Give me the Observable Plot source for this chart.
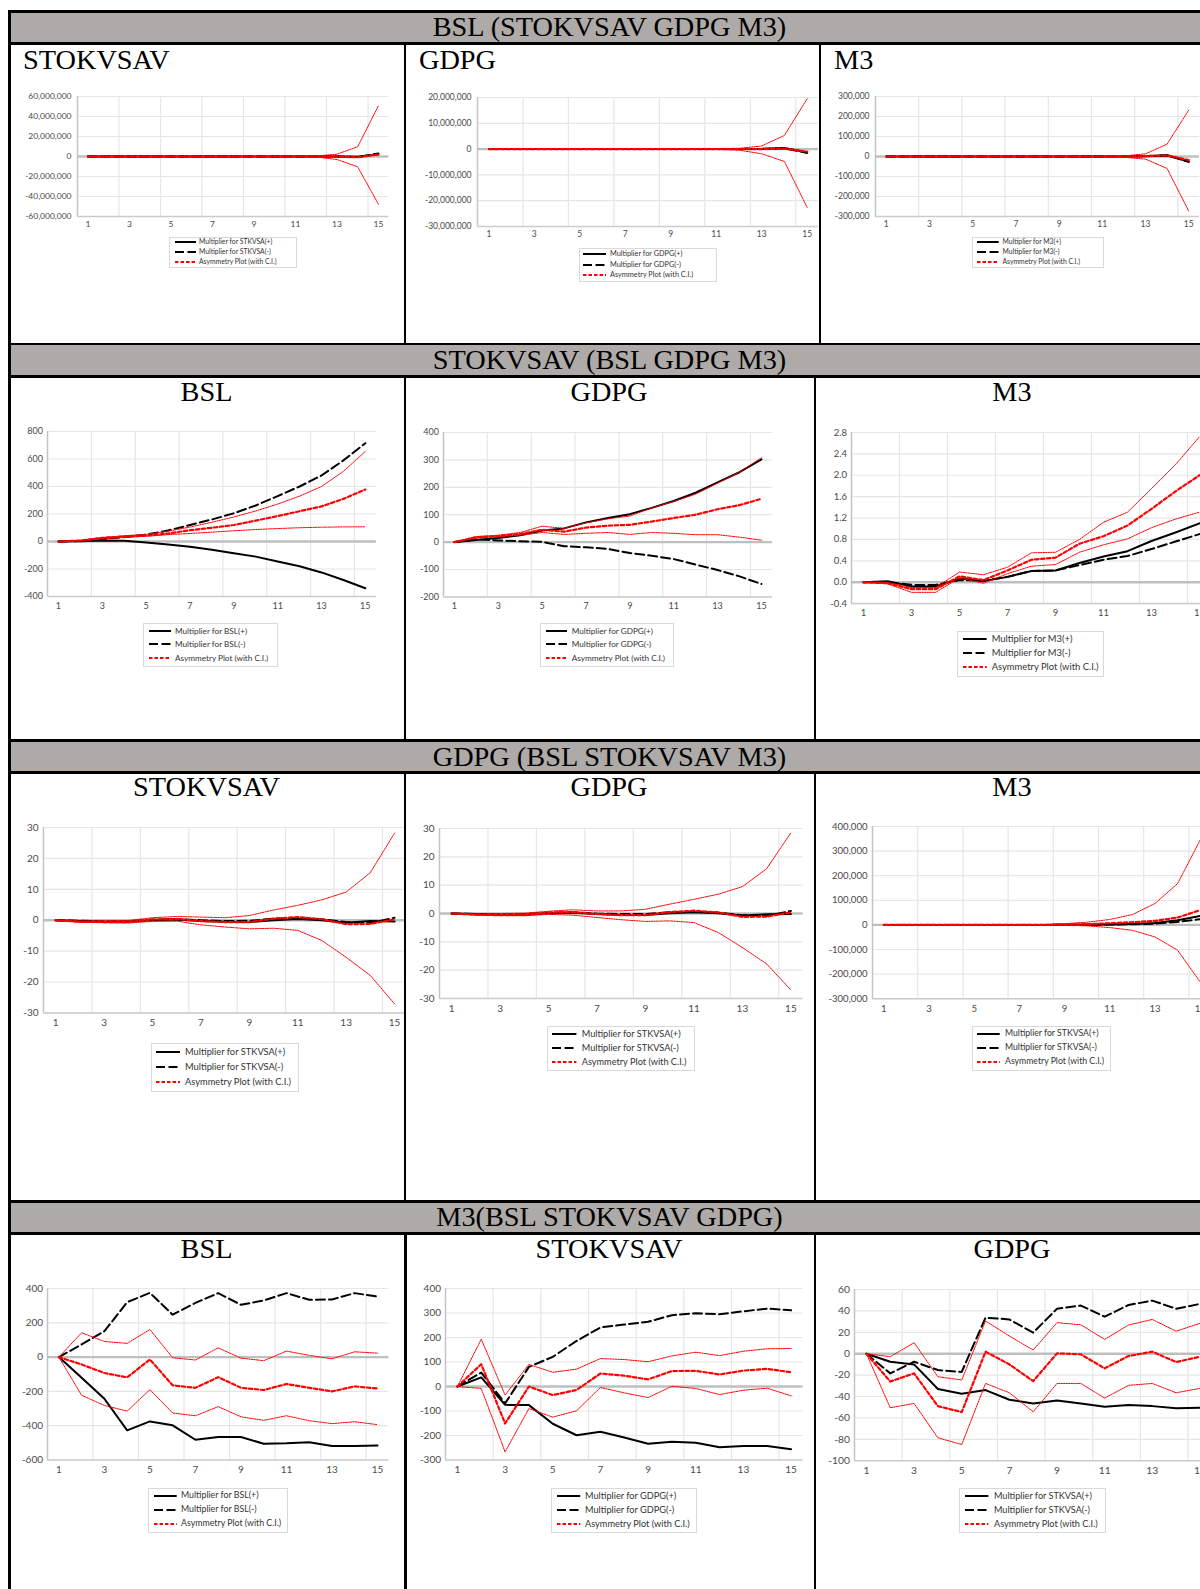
<!DOCTYPE html>
<html><head><meta charset="utf-8">
<script src="https://cdn.jsdelivr.net/npm/d3@7"></script>
<script src="https://cdn.jsdelivr.net/npm/@observablehq/plot@0.6"></script>
<style>
html,body{margin:0;padding:0;background:#fff;overflow:hidden;width:1200px;height:1589px;}
#page{position:relative;width:1200px;height:1589px;overflow:hidden;background:#fff;}
.ln{position:absolute;background:#000;z-index:5;}
.band{position:absolute;background:#AEAAA8;z-index:1;}
.serif{position:absolute;font-family:"Liberation Serif","Times New Roman",serif;font-size:28.3px;line-height:28.3px;white-space:nowrap;color:#000;z-index:6;}
.lg{position:absolute;border:1px solid #D9D9D9;box-sizing:border-box;background:#fff;z-index:3;font-family:Lato,sans-serif;color:#333;}
.lg .it{position:absolute;white-space:nowrap;}
.lg svg{position:absolute;overflow:visible;}
</style></head><body><div id="page"></div>
<script>
// ---------------- DATA ----------------
const periods = [1,2,3,4,5,6,7,8,9,10,11,12,13,14,15];

const sectionTitles = ["BSL (STOKVSAV GDPG M3)", "STOKVSAV (BSL GDPG M3)", "GDPG (BSL STOKVSAV M3)", "M3(BSL STOKVSAV GDPG)"];
const panelTitles = [["STOKVSAV","GDPG","M3"],["BSL","GDPG","M3"],["STOKVSAV","GDPG","M3"],["BSL","STOKVSAV","GDPG"]];
const legendVars = [["STKVSA","GDPG","M3"],["BSL","GDPG","M3"],["STKVSA","STKVSA","STKVSA"],["BSL","GDPG","STKVSA"]];

// y tick labels
const ticks_bsl_stk = [-60000000,-40000000,-20000000,0,20000000,40000000,60000000];
const ticks_bsl_gdpg = [-30000000,-20000000,-10000000,0,10000000,20000000];
const ticks_bsl_m3 = [-300000,-200000,-100000,0,100000,200000,300000];
const ticks_stk_bsl = [-400,-200,0,200,400,600,800];
const ticks_stk_gdpg = [-200,-100,0,100,200,300,400];
const ticks_stk_m3 = [-0.4,0,0.4,0.8,1.2,1.6,2.0,2.4,2.8];
const ticks_gdpg_stk = [-30,-20,-10,0,10,20,30];
const ticks_gdpg_gdpg = [-30,-20,-10,0,10,20,30];
const ticks_gdpg_m3 = [-300000,-200000,-100000,0,100000,200000,300000,400000];
const ticks_m3_bsl = [-600,-400,-200,0,200,400];
const ticks_m3_stk = [-300,-200,-100,0,100,200,300,400];
const ticks_m3_gdpg = [-100,-80,-60,-40,-20,0,20,40,60];

// Section 1: BSL equation
const bsl_stk_pos  = [0,0,0,0,0,0,0,0,0,0,0,0,0,-300000,2300000];
const bsl_stk_neg  = [0,0,0,0,0,0,0,0,0,0,0,0,-100000,-500000,3000000];
const bsl_stk_asym = [0,0,0,0,0,0,0,0,0,0,0,50000,-200000,-800000,2000000];
const bsl_stk_up   = [0,0,0,0,0,0,0,0,0,0,100000,500000,2300000,9700000,50700000];
const bsl_stk_lo   = [0,0,0,0,0,0,0,0,0,0,-100000,-500000,-3000000,-10300000,-47700000];

const bsl_gdpg_pos  = [0,0,0,0,0,0,0,0,0,0,0,0,100000,400000,-1200000];
const bsl_gdpg_neg  = [0,0,0,0,0,0,0,0,0,0,0,0,0,300000,-1500000];
const bsl_gdpg_asym = [0,0,0,0,0,0,0,0,0,0,0,0,0,200000,-1000000];
const bsl_gdpg_up   = [0,0,0,0,0,0,0,0,0,0,100000,300000,1200000,5300000,19500000];
const bsl_gdpg_lo   = [0,0,0,0,0,0,0,0,0,0,-100000,-400000,-1800000,-4800000,-22600000];

const bsl_m3_pos  = [0,0,0,0,0,0,0,0,0,0,0,0,1000,5000,-25000];
const bsl_m3_neg  = [0,0,0,0,0,0,0,0,0,0,0,0,2000,7000,-27000];
const bsl_m3_asym = [0,0,0,0,0,0,0,0,0,0,0,0,2000,6000,-18000];
const bsl_m3_up   = [0,0,0,0,0,0,0,0,0,0,1000,3000,13000,62000,232000];
const bsl_m3_lo   = [0,0,0,0,0,0,0,0,0,0,-1000,-4000,-13000,-60000,-273000];

// Section 2: STOKVSAV equation
const stk_bsl_pos  = [0,2,8,5,-8,-22,-38,-60,-85,-110,-145,-180,-225,-280,-340];
const stk_bsl_neg  = [0,5,18,32,50,80,120,160,205,262,330,400,480,590,715];
const stk_bsl_asym = [0,7,26,37,42,58,82,100,120,152,185,220,255,310,378];
const stk_bsl_up   = [0,8,28,42,52,75,105,140,178,222,272,330,400,510,655];
const stk_bsl_lo   = [0,6,18,30,38,50,58,68,78,87,94,100,104,106,107];

const stk_gdpg_pos  = [0,8,15,25,42,50,72,88,102,125,150,180,218,255,302];
const stk_gdpg_neg  = [0,10,6,3,1,-15,-19,-25,-40,-50,-62,-82,-102,-125,-153];
const stk_gdpg_asym = [0,18,22,30,45,38,53,60,63,75,88,100,120,135,158];
const stk_gdpg_up   = [0,20,25,35,58,50,70,85,95,125,148,175,215,255,308];
const stk_gdpg_lo   = [0,15,20,25,35,28,32,35,28,35,32,27,27,18,7];

const stk_m3_pos  = [0,0.02,-0.08,-0.08,0.07,0.02,0.1,0.21,0.22,0.36,0.48,0.58,0.77,0.93,1.1];
const stk_m3_neg  = [0,0,-0.05,-0.05,0.04,0.03,0.1,0.21,0.22,0.32,0.42,0.49,0.62,0.76,0.9];
const stk_m3_asym = [0,-0.02,-0.13,-0.13,0.11,0.04,0.22,0.42,0.46,0.72,0.86,1.06,1.37,1.7,2.0];
const stk_m3_up   = [0,0,-0.1,-0.1,0.19,0.14,0.28,0.55,0.56,0.8,1.12,1.31,1.75,2.2,2.72];
const stk_m3_lo   = [0,-0.03,-0.19,-0.19,0.08,-0.02,0.16,0.3,0.33,0.56,0.7,0.81,1.02,1.18,1.31];

// Section 3: GDPG equation
const gdpg_stk_pos  = [0,-0.3,-0.5,-0.5,0,0.2,-0.3,-0.5,-0.6,0,0.4,0,-0.8,-0.3,-0.4];
const gdpg_stk_neg  = [0,-0.2,-0.4,-0.3,0.2,0.3,0,-0.3,-0.2,0.5,0.6,0.3,-0.6,-0.9,0.8];
const gdpg_stk_asym = [0,-0.5,-0.6,-0.6,0.2,0.4,-0.3,-0.6,-0.6,0.5,1.0,0.3,-1.3,-1.2,0.3];
const gdpg_stk_up   = [0,-0.3,-0.2,-0.1,0.8,1.2,1.0,0.8,1.5,3.3,4.8,6.6,9.1,15.4,28.2];
const gdpg_stk_lo   = [0,-0.7,-0.8,-0.9,-0.4,-0.3,-1.5,-2.2,-2.8,-2.6,-3.3,-6.6,-12,-17.9,-27.1];

const gdpg_gdpg_pos  = [0,-0.2,-0.4,-0.4,0.1,0.3,-0.2,-0.5,-0.5,0.1,0.4,0.1,-0.7,-0.3,-0.2];
const gdpg_gdpg_neg  = [0,-0.2,-0.3,-0.2,0.3,0.4,0,-0.2,-0.2,0.5,0.6,0.3,-0.6,-0.8,0.9];
const gdpg_gdpg_asym = [0,-0.4,-0.6,-0.5,0.3,0.5,-0.2,-0.6,-0.6,0.5,1.0,0.4,-1.2,-1.1,0.4];
const gdpg_gdpg_up   = [0,-0.2,0,0.1,0.8,1.3,0.9,0.9,1.5,3.3,5,6.8,9.5,15.8,28.5];
const gdpg_gdpg_lo   = [0,-0.6,-0.7,-0.8,-0.3,-0.6,-1.4,-2.2,-2.8,-2.6,-3.2,-6.7,-12,-17.8,-27];

const gdpg_m3_pos  = [0,0,0,0,0,0,0,0,300,1000,2000,4000,8000,19000,36600];
const gdpg_m3_neg  = [0,0,0,0,0,0,0,0,200,800,1500,3000,5000,12000,23000];
const gdpg_m3_asym = [0,0,0,0,0,0,0,200,1000,3000,6800,10800,16300,30000,60000];
const gdpg_m3_up   = [0,0,0,0,0,0,0,1000,5000,11000,22000,42000,87000,168000,345000];
const gdpg_m3_lo   = [0,0,0,0,0,0,0,-500,-1000,-4000,-11000,-22000,-49000,-103000,-232000];

// Section 4: M3 equation
const m3_bsl_pos  = [0,-120,-243,-427,-375,-398,-482,-466,-466,-505,-503,-497,-518,-518,-515];
const m3_bsl_neg  = [0,74,151,320,375,247,316,373,305,330,373,334,336,373,353];
const m3_bsl_asym = [0,-43,-93,-118,-14,-165,-179,-117,-179,-192,-157,-179,-200,-171,-183];
const m3_bsl_up   = [0,142,91,80,161,-4,-17,54,-6,-21,35,10,-10,31,23];
const m3_bsl_lo   = [0,-223,-282,-315,-190,-326,-342,-289,-348,-369,-342,-371,-388,-377,-394];

const m3_stk_pos  = [0,37,-75,-76,-152,-199,-185,-208,-234,-226,-230,-248,-243,-243,-256];
const m3_stk_neg  = [0,57,-69,80,121,186,241,253,264,291,299,295,307,318,311];
const m3_stk_asym = [0,91,-151,0,-35,-14,53,44,29,63,64,49,65,72,58];
const m3_stk_up   = [0,193,-35,90,58,71,114,110,101,125,140,126,144,154,155];
const m3_stk_lo   = [0,-8,-267,-90,-125,-99,-4,-26,-45,1,-8,-33,-15,-7,-38];

const m3_gdpg_pos  = [0,-7.5,-10,-33,-37.5,-34,-43,-46.5,-43.7,-46.5,-49.6,-48,-49,-51,-50.5];
const m3_gdpg_neg  = [0,-18.4,-7.5,-15.3,-17,33.7,32,19.7,42,45,34.6,45.5,49.6,42,46.5];
const m3_gdpg_asym = [0,-26,-18.4,-49,-54.6,1.9,-10,-25.6,0.3,-0.6,-13.7,-2.2,1.9,-7.8,-2.8];
const m3_gdpg_up   = [0,-2.8,10.3,-21.5,-24.6,30.6,16.5,3.4,29,27,13.4,26.8,32,21,28.4];
const m3_gdpg_lo   = [0,-50.5,-46.5,-78.6,-84.9,-27.8,-36.5,-54.3,-27.8,-27.8,-41.5,-29.6,-27.8,-36.5,-32.4];

// ---------------- HELPERS ----------------
const commaFmt = v => (v < 0 ? "-" : "") + d3.format(",")(Math.abs(v));
const dec1Fmt = v => v.toFixed(1);
const plainFmt = v => String(v);

const panels = [
  [ {d:[bsl_stk_pos,bsl_stk_neg,bsl_stk_asym,bsl_stk_up,bsl_stk_lo], t:ticks_bsl_stk, f:commaFmt},
    {d:[bsl_gdpg_pos,bsl_gdpg_neg,bsl_gdpg_asym,bsl_gdpg_up,bsl_gdpg_lo], t:ticks_bsl_gdpg, f:commaFmt},
    {d:[bsl_m3_pos,bsl_m3_neg,bsl_m3_asym,bsl_m3_up,bsl_m3_lo], t:ticks_bsl_m3, f:commaFmt} ],
  [ {d:[stk_bsl_pos,stk_bsl_neg,stk_bsl_asym,stk_bsl_up,stk_bsl_lo], t:ticks_stk_bsl, f:plainFmt},
    {d:[stk_gdpg_pos,stk_gdpg_neg,stk_gdpg_asym,stk_gdpg_up,stk_gdpg_lo], t:ticks_stk_gdpg, f:plainFmt},
    {d:[stk_m3_pos,stk_m3_neg,stk_m3_asym,stk_m3_up,stk_m3_lo], t:ticks_stk_m3, f:dec1Fmt} ],
  [ {d:[gdpg_stk_pos,gdpg_stk_neg,gdpg_stk_asym,gdpg_stk_up,gdpg_stk_lo], t:ticks_gdpg_stk, f:plainFmt},
    {d:[gdpg_gdpg_pos,gdpg_gdpg_neg,gdpg_gdpg_asym,gdpg_gdpg_up,gdpg_gdpg_lo], t:ticks_gdpg_gdpg, f:plainFmt},
    {d:[gdpg_m3_pos,gdpg_m3_neg,gdpg_m3_asym,gdpg_m3_up,gdpg_m3_lo], t:ticks_gdpg_m3, f:commaFmt} ],
  [ {d:[m3_bsl_pos,m3_bsl_neg,m3_bsl_asym,m3_bsl_up,m3_bsl_lo], t:ticks_m3_bsl, f:plainFmt},
    {d:[m3_stk_pos,m3_stk_neg,m3_stk_asym,m3_stk_up,m3_stk_lo], t:ticks_m3_stk, f:plainFmt},
    {d:[m3_gdpg_pos,m3_gdpg_neg,m3_gdpg_asym,m3_gdpg_up,m3_gdpg_lo], t:ticks_m3_gdpg, f:plainFmt} ]
];

// ---------------- LAYOUT ----------------
const headerLayout = [{T:10,B:41.5},{T:342.5,B:375},{T:739.3,B:770.7},{T:1200,B:1231.7}];
const rowSpans = [[44,342.5],[377.5,739.3],[773.3,1200],[1234,1589]];
const dividerX = [[403.5,818.5],[403.5,813.5],[403.5,813.5],[404,813.5]];
const titleBaselines = [70,402,797,1259];
const row1TitleX = [23,419,834];
const panelX = [[9,404],[404,814],[814,1210]];

const chartBoxes = [
 [ {x0:77.2,x1:388.5,yTop:96.3,yBot:216.3,fs:8.5,padX:4.5,padY:6},
   {x0:477,x1:818,yTop:97,yBot:226,fs:8.5,padX:4.5,padY:6},
   {x0:875.4,x1:1199.4,yTop:96,yBot:216,fs:8.5,padX:4.5,padY:6} ],
 [ {x0:46.7,x1:375.5,yTop:431.3,yBot:596.3,fs:9,padX:6,padY:4.5},
   {x0:442.8,x1:771.7,yTop:431.7,yBot:596.1,fs:9,padX:6,padY:4.5},
   {x0:851,x1:1211,yTop:431.9,yBot:603,fs:9.5,padX:6,padY:4.5} ],
 [ {x0:43.2,x1:406.4,yTop:827,yBot:1012.4,fs:10,padX:6,padY:5},
   {x0:438.9,x1:802.4,yTop:827.7,yBot:997.7,fs:10,padX:6,padY:5},
   {x0:871.7,x1:1210.7,yTop:826.3,yBot:998.5,fs:9.6,padX:6,padY:5} ],
 [ {x0:47.3,x1:388.7,yTop:1288.1,yBot:1459.6,fs:10,padX:5.5,padY:4.5},
   {x0:445.1,x1:802.6,yTop:1288.3,yBot:1459.8,fs:10,padX:5.5,padY:4.5},
   {x0:853.8,x1:1211.2,yTop:1288.5,yBot:1459.7,fs:10.3,padX:5.5,padY:4.5} ]
];

const legendBoxes = [
 [ {l:169,t:236.7,w:128,h:31.6,rows:[242,252,262],fs:6.8,s0:5.5,sl:21,tx:30},
   {l:579,t:248.3,w:138,h:34,rows:[253.7,264.7,275.3],fs:7.3,s0:4,sl:23,tx:31},
   {l:972,t:236.7,w:131.6,h:31.6,rows:[242,252,262],fs:6.8,s0:5,sl:21.7,tx:30.5} ],
 [ {l:143,t:623,w:135,h:44,rows:[631,644,658],fs:8.2,s0:6,sl:22,tx:32},
   {l:540,t:623,w:134,h:44,rows:[631,644,658],fs:8.2,s0:5.7,sl:21,tx:31.7},
   {l:957,t:631,w:147,h:46,rows:[639,653,667],fs:9.4,s0:6.3,sl:23.7,tx:34.7} ],
 [ {l:150.7,t:1042.7,w:148.3,h:49,rows:[1051.7,1066.7,1081.7],fs:9.3,s0:5.3,sl:24,tx:34.3},
   {l:546.7,t:1026,w:148.6,h:45.3,rows:[1034,1048,1062.3],fs:9.2,s0:5.6,sl:24.4,tx:35},
   {l:972,t:1026,w:138.7,h:45.3,rows:[1034,1048,1062],fs:8.7,s0:5.3,sl:22.7,tx:33} ],
 [ {l:148.3,t:1487.7,w:139.7,h:45.6,rows:[1496,1510,1524],fs:8.8,s0:5.7,sl:22.7,tx:32.7},
   {l:550.7,t:1487.7,w:146.3,h:45.6,rows:[1496,1510,1524],fs:9.2,s0:6,sl:23.3,tx:34.3},
   {l:959.3,t:1487.7,w:146.4,h:45.6,rows:[1496,1510,1524],fs:9.1,s0:6,sl:23.4,tx:34.7} ]
];

const page = document.getElementById("page");
function div(cls, css, text) {
  const d = document.createElement("div");
  d.className = cls;
  for (const k in css) d.style[k] = typeof css[k] === "number" ? css[k] + "px" : css[k];
  if (text != null) d.textContent = text;
  page.appendChild(d);
  return d;
}

const titleFs = 28.3;
// headers
headerLayout.forEach((h, i) => {
  div("ln", {left:8, top:h.T, width:1200, height:2.5});
  div("band", {left:8, top:h.T + 2.5, width:1200, height:h.B - h.T - 2.5});
  div("ln", {left:8, top:h.B, width:1200, height:3});
  div("serif", {left:9, width:1201, textAlign:"center", top:h.T + 27 - 0.8375 * titleFs}, sectionTitles[i]);
});
// left border
div("ln", {left:8, top:10, width:2.5, height:1589});
// dividers
rowSpans.forEach((s, r) => {
  dividerX[r].forEach(x => div("ln", {left:x, top:s[0], width:2.5, height:s[1] - s[0]}));
});
// panel titles
panelTitles.forEach((row, r) => {
  row.forEach((t, c) => {
    const top = titleBaselines[r] - 0.8375 * titleFs;
    if (r === 0) div("serif", {left:row1TitleX[c], top}, t);
    else div("serif", {left:panelX[c][0], width:panelX[c][1] - panelX[c][0], textAlign:"center", top}, t);
  });
});

const boundaries = periods.filter(p => p % 2 === 0 && p < periods[periods.length - 1]).map(p => p + 0.5);
const oddTicks = periods.filter(p => p % 2 === 1);
const xDomain = [periods[0] - 0.5, periods[periods.length - 1] + 0.5];

function drawChart(box, panel) {
  const mL = 80, mR = 2, mT = 4, mB = 24;
  const W = box.x1 - box.x0 + mL + mR, H = box.yBot - box.yTop + mT + mB;
  const [pos, neg, asym, up, lo] = panel.d;
  const rows = periods.map((p, i) => ({p, pos: pos[i], neg: neg[i], asym: asym[i], up: up[i], lo: lo[i]}));
  const yt = panel.t;
  const yMin = yt[0], yMax = yt[yt.length - 1];
  const svg = Plot.plot({
    width: W, height: H,
    marginLeft: mL, marginRight: mR, marginTop: mT, marginBottom: mB,
    x: {domain: xDomain, ticks: oddTicks, tickSize: 0, tickPadding: box.padX, tickFormat: d => String(d), label: null},
    y: {domain: [yMin, yMax], ticks: yt, tickSize: 0, tickPadding: box.padY, tickFormat: panel.f, label: null},
    style: {fontFamily: "Lato, sans-serif", fontSize: box.fs + "px", color: "#4a4a4a", background: "transparent", maxWidth: "none", overflow: "visible"},
    marks: [
      Plot.gridY(yt, {stroke: "#E6E6E6", strokeOpacity: 1, strokeWidth: 1.2}),
      Plot.gridX(boundaries, {stroke: "#E6E6E6", strokeOpacity: 1, strokeWidth: 1.2}),
      Plot.ruleX([xDomain[0]], {stroke: "#C4C4C4", strokeWidth: 1.5}),
      Plot.ruleY([yMin], {stroke: "#CCCCCC", strokeWidth: 1.5}),
      Plot.ruleY([0], {stroke: "#BFBFBF", strokeWidth: 2.4}),
      Plot.lineY(rows, {x: "p", y: "pos", stroke: "#000", strokeWidth: 2}),
      Plot.lineY(rows, {x: "p", y: "neg", stroke: "#000", strokeWidth: 2, strokeDasharray: "9,4"}),
      Plot.lineY(rows, {x: "p", y: "asym", stroke: "#FF0000", strokeWidth: 2.2, strokeDasharray: "3.5,2.5"}),
      Plot.lineY(rows, {x: "p", y: "up", stroke: "#FF0000", strokeWidth: 1, strokeDasharray: "1.5,1"}),
      Plot.lineY(rows, {x: "p", y: "lo", stroke: "#FF0000", strokeWidth: 1, strokeDasharray: "1.5,1"})
    ]
  });
  svg.style.position = "absolute";
  svg.style.left = (box.x0 - mL) + "px";
  svg.style.top = (box.yTop - mT) + "px";
  svg.style.zIndex = 2;
  page.appendChild(svg);
}

const svgNS = "http://www.w3.org/2000/svg";
const sampleStyles = [
  {stroke: "#000", dash: null, w: 2},
  {stroke: "#000", dash: "9,3.5", w: 2},
  {stroke: "#FF0000", dash: "3.5,2", w: 2}
];
function drawLegend(L, v) {
  const labels = ["Multiplier for " + v + "(+)", "Multiplier for " + v + "(-)", "Asymmetry Plot (with C.I.)"];
  const box = div("lg", {left:L.l, top:L.t, width:L.w, height:L.h, fontSize:L.fs + "px"});
  labels.forEach((lab, i) => {
    const cy = L.rows[i] - L.t - 1;
    const s = document.createElementNS(svgNS, "svg");
    s.setAttribute("width", L.sl); s.setAttribute("height", 6);
    s.style.left = (L.s0 - 1) + "px"; s.style.top = (cy - 3) + "px";
    const ln = document.createElementNS(svgNS, "line");
    ln.setAttribute("x1", 0); ln.setAttribute("x2", L.sl); ln.setAttribute("y1", 3); ln.setAttribute("y2", 3);
    ln.setAttribute("stroke", sampleStyles[i].stroke); ln.setAttribute("stroke-width", sampleStyles[i].w);
    if (sampleStyles[i].dash) ln.setAttribute("stroke-dasharray", sampleStyles[i].dash);
    s.appendChild(ln);
    box.appendChild(s);
    const t = document.createElement("div");
    t.className = "it";
    t.style.left = (L.tx - 1) + "px";
    t.style.top = (cy - 0.527 * L.fs) + "px";
    t.style.lineHeight = L.fs + "px";
    t.textContent = lab;
    box.appendChild(t);
  });
}

panels.forEach((row, r) => row.forEach((panel, c) => {
  drawChart(chartBoxes[r][c], panel);
  drawLegend(legendBoxes[r][c], legendVars[r][c]);
}));
</script></body></html>
